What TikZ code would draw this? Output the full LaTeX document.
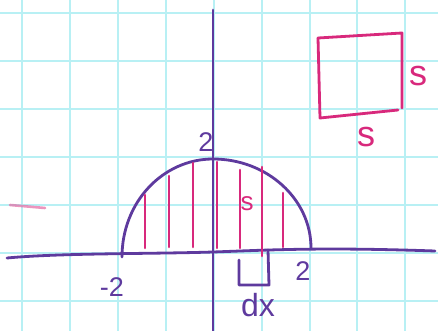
\documentclass[tikz,border=0pt]{standalone}
\usepackage{fontspec}
\setmainfont{Liberation Sans}
\definecolor{gridc}{HTML}{B8F0F4}
\definecolor{pur}{HTML}{5E3A9E}
\definecolor{mag}{HTML}{D8297C}
\tikzset{
  axis/.style={draw=pur, line width=2.8pt, line cap=round, line join=round},
  strip/.style={draw=mag, line width=2.6pt, line cap=round},
  sq/.style={draw=mag, line width=2.8pt, line cap=round, line join=round},
  plab/.style={text=pur, font=\fontsize{27}{27}\selectfont, inner sep=0pt},
  mlab/.style={text=mag, font=\fontsize{36}{36}\selectfont, inner sep=0pt}
}
\begin{document}
\begin{tikzpicture}[x=1pt,y=-1pt]
\useasboundingbox (0,0) rectangle (438,331);
\fill[white] (0,0) rectangle (438,331);
% grid
\foreach \gx in {22,70,118,166,214,262,310,357,405} \draw[gridc, line width=1.2pt] (\gx,0) -- (\gx,331);
\foreach \gy in {13,61,109,157,205,253,301} \draw[gridc, line width=1.2pt] (0,\gy) -- (438,\gy);
% faint ghost stroke
\draw[mag!70, line width=2.6pt, line cap=round, opacity=0.7] (10,205) -- (45,208);
% axes
\draw[axis] (213,10) -- (213,331);
\draw[axis] (7,258) .. controls (60,253) and (150,254) .. (213,252) .. controls (270,250) and (320,247) .. (435,251);
% semicircle
\draw[axis] (122,257) .. controls (122,202) and (163,159) .. (213,159) .. controls (267,159) and (311,199) .. (311,248);
% strips
\draw[strip] (145,195) -- (145,248);
\draw[strip] (169,176) -- (169,247);
\draw[strip] (193,163) -- (193,247);
\draw[strip] (217,162) -- (217,248);
\draw[strip] (240,170) -- (240,248);
\draw[strip] (262,167) -- (262,256);
\draw[strip] (283,193) -- (283,247);
% dx bracket
\draw[axis] (239,260) -- (239,285) -- (269,285) -- (268,250);
% square
\draw[sq] (318,38) -- (402,33) -- (402,108);
\draw[sq] (318,38) -- (320,118) -- (398,110);
% labels
\node[plab] (top2) at (206,142) {2};
\node[plab] (neg2) at (112,287) {-2};
\node[plab] (pos2) at (303,271) {2};
\node[plab, font=\fontsize{32}{32}\selectfont] (dx) at (258,305) {dx};
\node[mlab, font=\fontsize{26}{26}\selectfont] (sin) at (247,204) {s};
\node[mlab] (sright) at (418,76) {s};
\node[mlab] (sbot) at (366,137) {s};
\end{tikzpicture}
\end{document}
